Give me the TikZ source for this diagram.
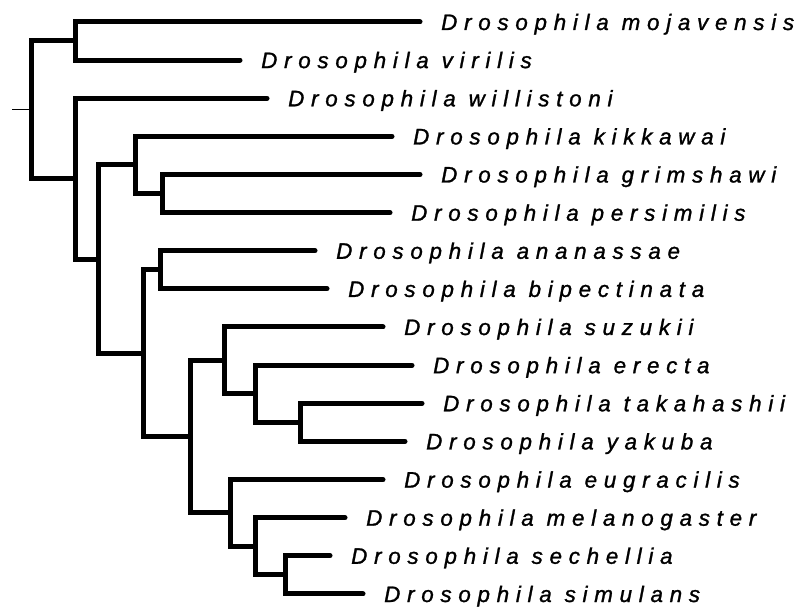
\documentclass[tikz,border=0pt]{standalone}
\usepackage{fontspec}
\setmainfont{Liberation Sans}
\newfontfamily\labfont[LetterSpace=30,FakeBold=1.2]{Liberation Sans}
\tikzset{
  br/.style={line width=5pt, line cap=round, line join=miter},
  stub/.style={line width=1pt},
  lab/.style={anchor=base west, inner sep=0pt, font=\labfont\itshape\fontsize{22.4}{26}\selectfont},
}
\begin{document}
\begin{tikzpicture}[x=1pt,y=-1pt]
\useasboundingbox (0,0) rectangle (804,609);
% leaf line ends
\coordinate (moj) at (420,22);
\coordinate (vir) at (240,60.1);
\coordinate (wil) at (267,98.3);
\coordinate (kik) at (392,136.4);
\coordinate (gri) at (420,174.5);
\coordinate (per) at (390,212.7);
\coordinate (ana) at (315,250.8);
\coordinate (bip) at (327,288.9);
\coordinate (suz) at (383,327.0);
\coordinate (ere) at (412,365.2);
\coordinate (tak) at (422,403.3);
\coordinate (yak) at (405,441.4);
\coordinate (eug) at (383,479.6);
\coordinate (mel) at (345,517.7);
\coordinate (sec) at (330,555.8);
\coordinate (sim) at (363,594.0);
% internal nodes
\coordinate (nK) at (300,422.35);
\coordinate (nJ) at (255,393.8);
\coordinate (nI) at (224,360.4);
\coordinate (nN) at (285,574.9);
\coordinate (nM) at (255,546.3);
\coordinate (nL) at (230,512.9);
\coordinate (nH) at (190,436.7);
\coordinate (nG) at (160,269.9);
\coordinate (nF) at (143,353.3);
\coordinate (nE) at (162,193.6);
\coordinate (nD) at (135,165.0);
\coordinate (nC) at (98,259.2);
\coordinate (nB) at (75,178.7);
\coordinate (nA) at (75,41.0);
\coordinate (nR) at (31,109.9);
\coordinate (rootend) at (12,109.9);
% branches
\foreach \p/\a/\b in {nA/moj/vir, nE/gri/per, nG/ana/bip, nK/tak/yak, nN/sec/sim,
  nD/kik/nE, nJ/ere/nK, nI/suz/nJ, nM/mel/nN, nL/eug/nM, nH/nI/nL, nF/nG/nH,
  nC/nD/nF, nB/wil/nC, nR/nA/nB}
  \draw[br] (\a) -- (\p |- \a) -- (\p |- \b) -- (\b);
\draw[stub] (rootend) -- (nR);
% labels
\foreach \l/\t in {moj/mojavensis, vir/virilis, wil/willistoni, kik/kikkawai,
  gri/grimshawi, per/persimilis, ana/ananassae, bip/bipectinata, suz/suzukii,
  ere/erecta, tak/takahashii, yak/yakuba, eug/eugracilis, mel/melanogaster,
  sec/sechellia, sim/simulans}
  \node[lab] (t\l) at ([xshift=21pt,yshift=-8pt]\l) {Drosophila \t};
\end{tikzpicture}
\end{document}
